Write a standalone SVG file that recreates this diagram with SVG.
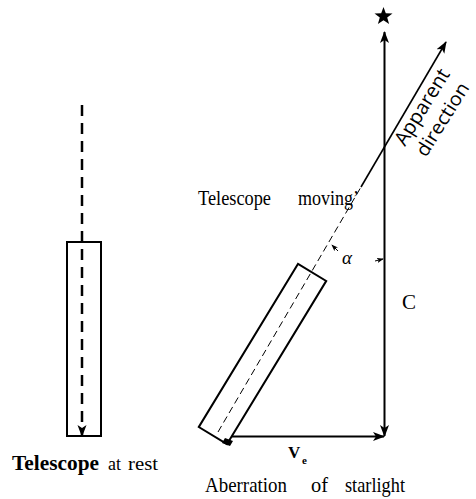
<svg xmlns="http://www.w3.org/2000/svg" width="476" height="499" viewBox="0 0 476 499">
<style>
.ln{stroke:#000;fill:none;stroke-width:2}
.thin{stroke:#000;fill:none;stroke-width:1}
.serif{font-family:"Liberation Serif","Times New Roman",serif;fill:#000}
.sans{font-family:"Open Sans","Liberation Sans",sans-serif;fill:#000}
</style>
<defs>
<marker id="ah" viewBox="0 0 12 10" refX="11" refY="5" markerWidth="12" markerHeight="10" markerUnits="userSpaceOnUse" orient="auto-start-reverse">
<path d="M0,0.5 L12,5 L0,9.5 L3,5 z" fill="#000"/>
</marker>
<marker id="ahs" viewBox="0 0 8 6" refX="7" refY="3" markerWidth="7" markerHeight="6" markerUnits="userSpaceOnUse" orient="auto">
<path d="M0,0 L8,3 L0,6 L2,3 z" fill="#000"/>
</marker>
</defs>

<g id="telescope-rest">
<rect x="67" y="242" width="34" height="194" class="ln"/>
</g>

<g id="telescope-moving">
<rect x="246" y="258.5" width="33" height="191" class="ln" transform="rotate(31.3 262.5 354)"/>
<path d="M225,438 L233,441 L230,446 L222,443 z" fill="#000" stroke="none"/>
</g>

<g id="star">
<polygon points="383.5,7 385.8,13.2 392.5,13.4 387.2,17.6 389.1,24 383.5,20.3 377.9,24 379.8,17.6 374.5,13.4 381.2,13.2" fill="#000"/>
</g>

<g id="connectors">
<line x1="82" y1="105" x2="82" y2="436" stroke="#000" stroke-width="2.5" stroke-dasharray="11 7" marker-end="url(#ah)"/>
<line x1="384.5" y1="436" x2="384.5" y2="32" class="ln" marker-start="url(#ah)" marker-end="url(#ah)"/>
<line x1="232" y1="436.5" x2="384" y2="436.5" class="ln" marker-end="url(#ah)"/>
<line x1="361" y1="187" x2="446" y2="42" stroke="#000" stroke-width="1.6" fill="none" marker-end="url(#ah)"/>
<line x1="218" y1="432" x2="361" y2="187" class="thin" stroke-dasharray="7 4"/>
<line x1="338" y1="251" x2="332" y2="245" class="thin" marker-end="url(#ahs)"/>
<line x1="375" y1="261" x2="383" y2="259" class="thin" marker-end="url(#ahs)"/>
</g>

<g id="labels">
<text class="serif" x="198" y="205" font-size="20" textLength="73" lengthAdjust="spacingAndGlyphs">Telescope</text>
<text class="serif" x="298" y="205" font-size="20" textLength="61" lengthAdjust="spacingAndGlyphs">moving’</text>
<text class="serif" x="342" y="264" font-size="19" font-style="italic">α</text>
<text class="serif" x="402" y="309" font-size="21">C</text>
<text class="serif" x="288" y="458" font-size="17" font-weight="bold">V</text>
<text class="serif" x="302" y="464" font-size="11" font-weight="bold">e</text>
<text class="serif" x="205" y="492" font-size="22" textLength="82" lengthAdjust="spacingAndGlyphs">Aberration</text>
<text class="serif" x="311" y="492" font-size="22" textLength="17" lengthAdjust="spacingAndGlyphs">of</text>
<text class="serif" x="345" y="492" font-size="22" textLength="60" lengthAdjust="spacingAndGlyphs">starlight</text>
<text class="serif" x="12" y="470" font-size="20" font-weight="bold" textLength="87" lengthAdjust="spacingAndGlyphs">Telescope</text>
<text class="serif" x="108" y="470" font-size="19" textLength="13" lengthAdjust="spacingAndGlyphs">at</text>
<text class="serif" x="128" y="470" font-size="19" textLength="30" lengthAdjust="spacingAndGlyphs">rest</text>
<text class="sans" x="405" y="147" font-size="20" textLength="86" lengthAdjust="spacingAndGlyphs" transform="rotate(-58 405 147)">Apparent</text>
<text class="sans" x="426" y="158" font-size="19" textLength="83" lengthAdjust="spacingAndGlyphs" transform="rotate(-58 426 158)">direction</text>
</g>
</svg>
